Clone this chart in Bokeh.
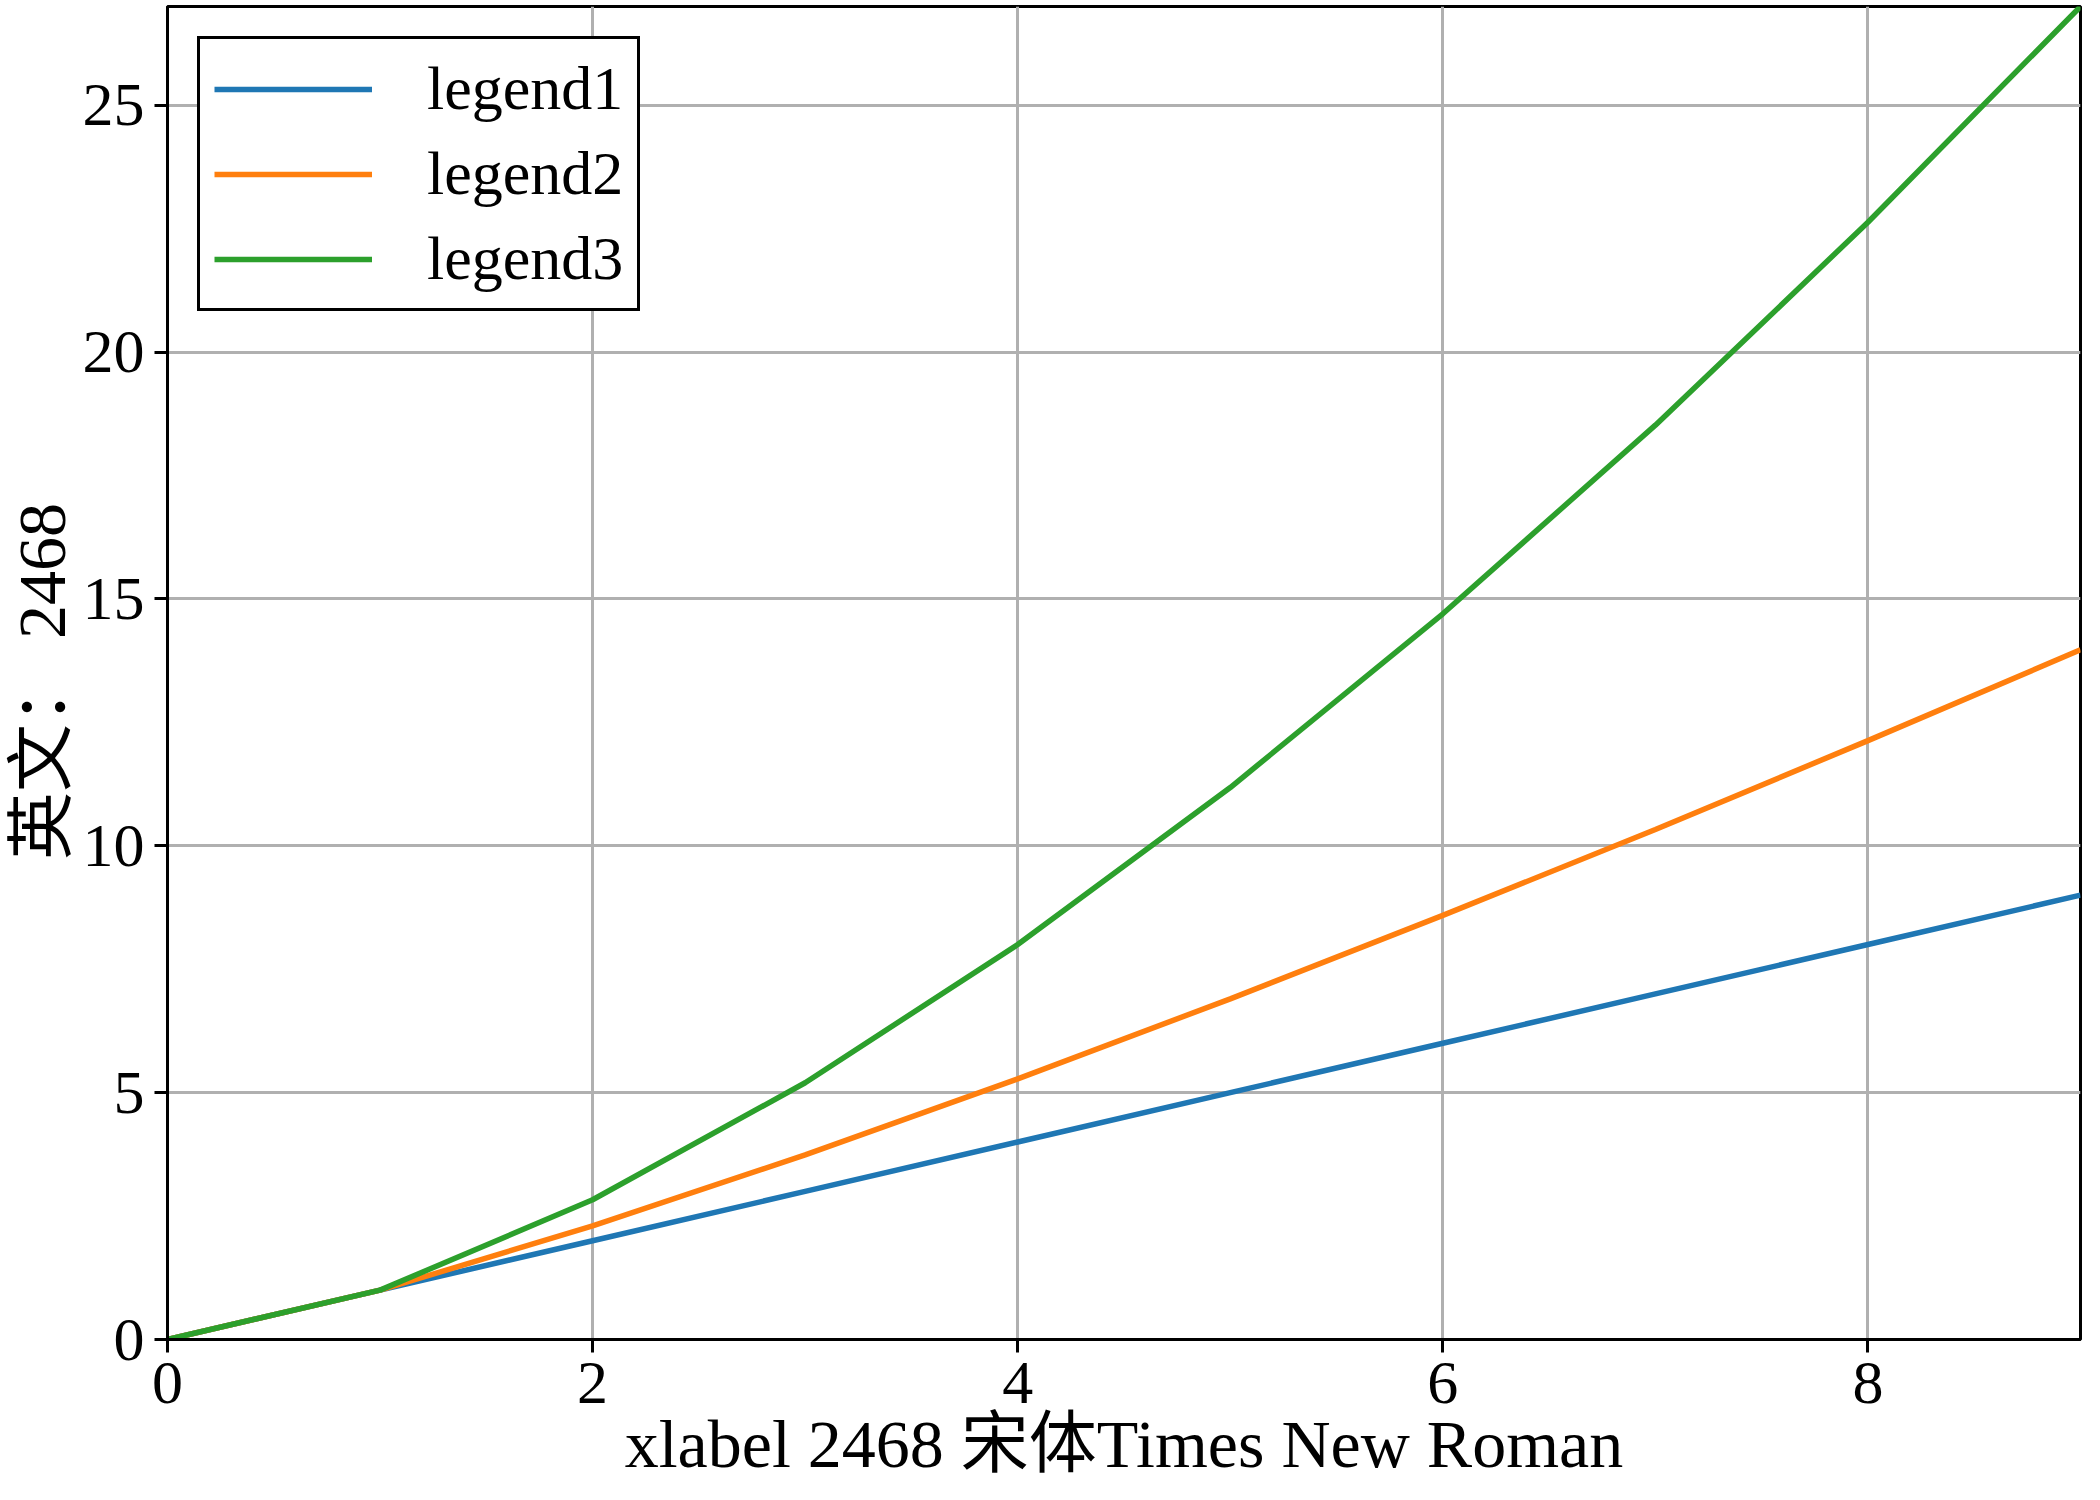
from bokeh.plotting import figure
from bokeh.models import Range1d, Legend, LegendItem
from bokeh.embed import file_html
from bokeh.resources import INLINE

x = [0, 1, 2, 3, 4, 5, 6, 7, 8, 9]
y1 = [0, 1, 2, 3, 4, 5, 6, 7, 8, 9]
y2 = [0, 1, 2.30, 3.74, 5.28, 6.90, 8.59, 10.33, 12.13, 13.97]
y3 = [0, 1, 2.83, 5.20, 8.0, 11.18, 14.70, 18.52, 22.63, 27.0]
names = ["legend1", "legend2", "legend3"]
colors = ["#1f77b4", "#ff7f0e", "#2ca02c"]

FONT = "'Liberation Serif', 'Noto Sans CJK SC', serif"

p = figure(width=2084, height=1484, output_backend="svg", toolbar_location=None,
           x_range=Range1d(0, 9), y_range=Range1d(0, 27),
           min_border_left=10, min_border_right=4, min_border_top=6, min_border_bottom=4)
p.outline_line_color = "black"
p.outline_line_width = 3
p.outline_line_alpha = 1

items = []
for ys, n, c in zip([y1, y2, y3], names, colors):
    r = p.line(x, ys, line_color=c, line_width=5.5)
    items.append(LegendItem(label=n, renderers=[r]))

p.xaxis.ticker = [0, 2, 4, 6, 8]
p.yaxis.ticker = [0, 5, 10, 15, 20, 25]
p.xaxis.axis_label = "xlabel 2468 宋体Times New Roman"
p.yaxis.axis_label = "英文：  2468"
for ax in [p.xaxis[0], p.yaxis[0]]:
    ax.major_label_text_font = FONT
    ax.major_label_text_font_size = "62px"
    ax.major_label_text_color = "black"
    ax.axis_label_text_font = FONT
    ax.axis_label_text_font_size = "68px"
    ax.axis_label_text_font_style = "normal"
    ax.axis_label_text_color = "black"
    ax.axis_line_width = 3
    ax.major_tick_line_width = 3
    ax.major_tick_out = 13
    ax.major_tick_in = 0
    ax.minor_tick_line_color = None
    ax.axis_label_standoff = 0
p.xaxis.major_label_standoff = 10
p.yaxis.major_label_standoff = 10

p.xgrid.grid_line_color = "#b0b0b0"
p.ygrid.grid_line_color = "#b0b0b0"
p.xgrid.grid_line_width = 3
p.ygrid.grid_line_width = 3

legend = Legend(items=items, location="top_left")
legend.label_text_font = FONT
legend.label_text_font_size = "62px"
legend.label_text_color = "black"
legend.border_line_color = "black"
legend.border_line_alpha = 1
legend.border_line_width = 3
legend.glyph_width = 158
legend.glyph_height = 70
legend.label_standoff = 55
legend.spacing = 14
legend.padding = 14
legend.margin = 30
legend.background_fill_alpha = 1
p.add_layout(legend)

open("out.html", "w").write(file_html(p, INLINE))
